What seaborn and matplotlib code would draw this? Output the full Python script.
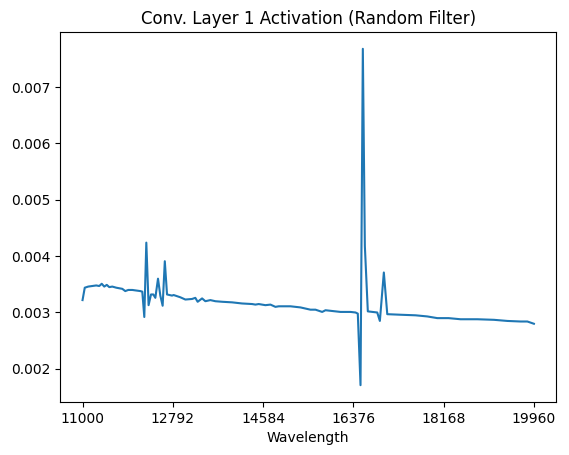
import matplotlib
matplotlib.use("Agg")
import matplotlib.pyplot as plt
import seaborn as sns
import pandas as pd

wavelength = [11000, 11044, 11113, 11193, 11272, 11332, 11381, 11431, 11481, 11531,
              11590, 11670, 11729, 11789, 11848, 11908, 11988, 12067, 12146, 12186,
              12226, 12266, 12311, 12359, 12405, 12445, 12498, 12544, 12590, 12633,
              12677, 12776, 12808, 12941, 13041, 13174, 13239, 13285, 13373, 13438,
              13537, 13637, 13776, 13969, 14167, 14366, 14432, 14497, 14630, 14730,
              14829, 14895, 15127, 15326, 15524, 15624, 15757, 15823, 15922, 16121,
              16320, 16419, 16464, 16518, 16564, 16604, 16663, 16756, 16850, 16902,
              16981, 17049, 17313, 17611, 17843, 18042, 18266, 18505, 18837, 19167,
              19433, 19697, 19830, 19960]
activation = [0.00322, 0.00344, 0.00346, 0.00347, 0.00348, 0.00347, 0.00351, 0.00346, 0.00349, 0.00345,
              0.00346, 0.00344, 0.00343, 0.00342, 0.00338, 0.00340, 0.00340, 0.00339, 0.00338, 0.00337,
              0.00292, 0.00424, 0.00313, 0.00332, 0.00332, 0.00326, 0.00360, 0.00330, 0.00312, 0.00391,
              0.00332, 0.00330, 0.00331, 0.00327, 0.00323, 0.00324, 0.00326, 0.00319, 0.00325, 0.00320,
              0.00322, 0.00320, 0.00319, 0.00318, 0.00316, 0.00315, 0.00314, 0.00315, 0.00313, 0.00314,
              0.00310, 0.00311, 0.00311, 0.00309, 0.00305, 0.00305, 0.00301, 0.00304, 0.00303, 0.00301,
              0.00301, 0.00300, 0.00298, 0.00171, 0.00768, 0.00418, 0.00302, 0.00301, 0.00300, 0.00285,
              0.00371, 0.00297, 0.00296, 0.00295, 0.00293, 0.00290, 0.00290, 0.00288, 0.00288, 0.00287,
              0.00285, 0.00284, 0.00284, 0.00280]
xtick_values = [11000, 12792, 14584, 16376, 18168, 19960]

df = pd.DataFrame({"Wavelength": wavelength, "Activation": activation})

fig = plt.figure(figsize=(5.69, 4.55), dpi=100)
ax = fig.add_axes([0.1054, 0.1165, 0.8726, 0.8132])
sns.lineplot(data=df, x="Wavelength", y="Activation", ax=ax, color="#1f77b4",
             linewidth=1.5, sort=False, estimator=None)
ax.set_title("Conv. Layer 1 Activation (Random Filter)")
ax.set_xlabel("Wavelength")
ax.set_ylabel("")
ax.set_xticks(xtick_values)
ax.set_xticklabels([str(v) for v in xtick_values])
fig.savefig("out.png", dpi=100)
